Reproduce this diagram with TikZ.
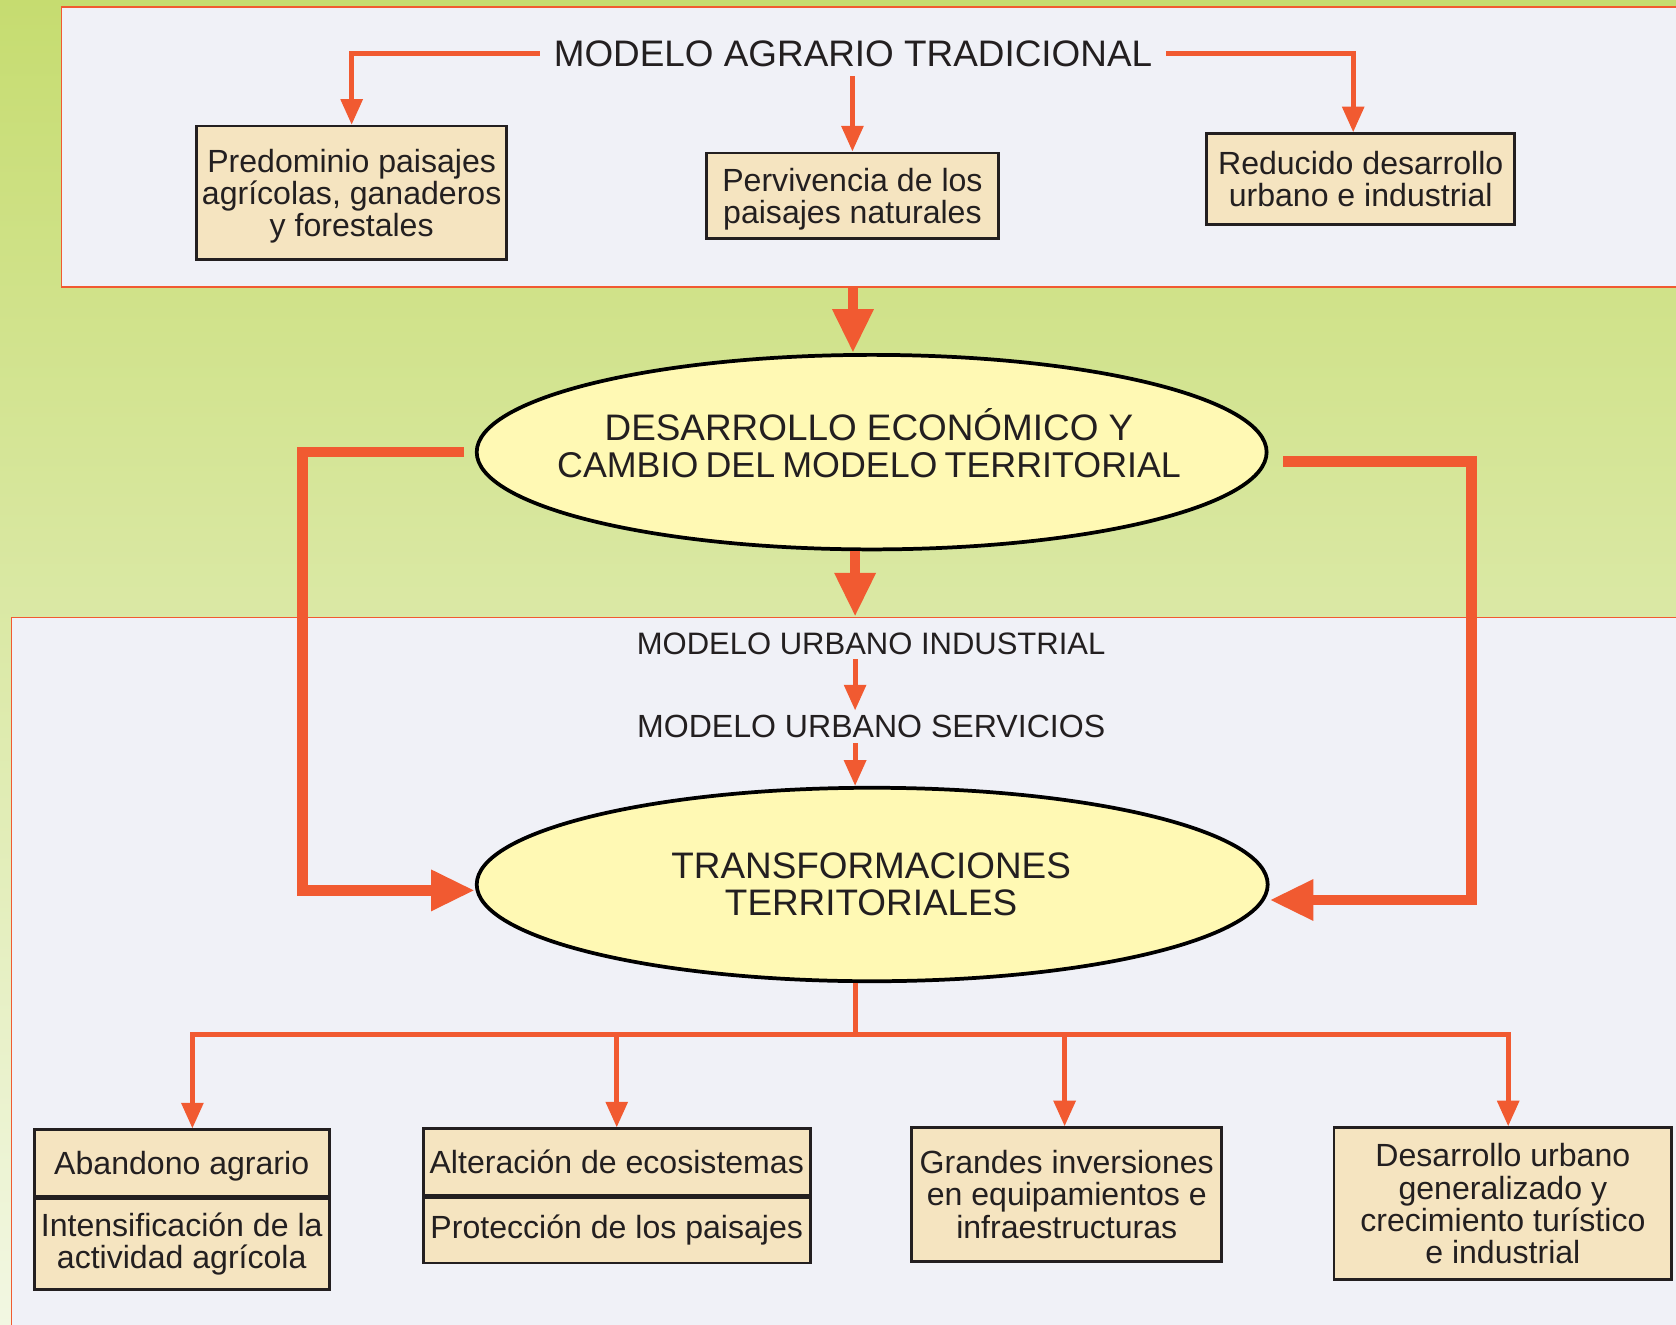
\documentclass[tikz,border=0pt]{standalone}
\usepackage{fontspec}
\setmainfont{Liberation Sans}
\usetikzlibrary{arrows.meta,shapes.geometric,calc}
\definecolor{orng}{HTML}{F15A31}
\definecolor{panelfill}{HTML}{F0F1F7}
\definecolor{boxfill}{HTML}{F5E4C0}
\definecolor{ellfill}{HTML}{FFF9B4}
\definecolor{txt}{HTML}{231F20}
\definecolor{greenA}{HTML}{C6DC70}
\definecolor{greenB}{HTML}{D8E6A0}
\definecolor{greenC}{HTML}{F2F7E2}
\begin{document}
\begin{tikzpicture}[x=1pt,y=-1pt,
  panel/.style={draw=orng,line width=1.3pt,fill=panelfill,inner sep=0pt},
  box/.style={draw=txt,line width=2.5pt,fill=boxfill,inner sep=2pt,align=center,font=\fontsize{30}{30}\selectfont,text=txt},
  ell/.style={ellipse,draw=black,line width=3.5pt,fill=ellfill,inner sep=0pt},
  bigtxt/.style={font=\fontsize{34.5}{35}\selectfont,text=txt,align=center,inner sep=0pt},
  midtxt/.style={font=\fontsize{29}{29}\selectfont,text=txt,inner sep=4.5pt},
  thinarr/.style={draw=orng,line width=4.5pt,-{Triangle[width=20pt,length=24pt]}},
  thickarr/.style={draw=orng,line width=10pt,-{Triangle[width=36pt,length=41pt]}},
  thinline/.style={draw=orng,line width=4.5pt},
]
\useasboundingbox (0,0) rectangle (1568,1239);
\clip (0,0) rectangle (1568,1239);
\shade[top color=greenA, middle color=greenB, bottom color=greenC] (0,0) rectangle (1568,1239);

% panels
\node[panel,anchor=north west,minimum width=1560pt,minimum height=262pt] (top) at (57,6) {};
\node[panel,anchor=north west,minimum width=1600pt,minimum height=700pt] (bot) at (10,577) {};

\coordinate (cx1) at (798,0);
\coordinate (cx2) at (800,0);

% top part
\node[bigtxt,inner xsep=13pt,inner ysep=9pt] (title) at (798,50) {MODELO AGRARIO TRADICIONAL};
\node[box,minimum width=290pt,minimum height=125pt,text depth=0pt] (p1) at (329,180.5) {Predominio paisajes\\agrícolas, ganaderos\\y forestales};
\node[box,minimum width=273pt,minimum height=80pt,text depth=0pt] (p2) at (797.5,183) {Pervivencia de los\\paisajes naturales};
\node[box,minimum width=288pt,minimum height=85pt] (p3) at (1273,167.5) {Reducido desarrollo\\urbano e industrial};

\draw[thinarr] (title.west) -| (p1.north);
\draw[thinarr] (title.south -| p2.north) -- (p2.north);
\draw[thinarr] (title.east) -| ($(p3.north)+(-7,0)$);

% ellipses
\node[ell,minimum width=739pt,minimum height=182pt] (e1) at (815.5,423) {};
\node[bigtxt] (e1t) at (813,414.5) {DESARROLLO ECONÓMICO Y\\{\fontsize{33.5}{35}\selectfont\spaceskip=0.2em\relax CAMBIO DEL MODELO TERRITORIAL}};
\node[ell,minimum width=740pt,minimum height=181pt] (e2) at (816,827.5) {};
\node[bigtxt] (e2t) at (815,827.5) {TRANSFORMACIONES\\TERRITORIALES};

\draw[thickarr] (top.south -| cx1) -- (e1.north -| cx1);
\draw[thickarr] (e1.south -| cx2) -- (bot.north -| cx2);

% middle labels
\node[midtxt] (m1) at (815,602) {MODELO URBANO INDUSTRIAL};
\node[midtxt,font=\fontsize{30}{30}\selectfont] (m2) at (815,680) {MODELO URBANO SERVICIOS};
\draw[thinarr] (m1.south -| cx2) -- (m2.north -| cx2);
\draw[thinarr] (m2.south -| cx2) -- (e2.north -| cx2);

% side connectors
\draw[thickarr] ($(e1.west)+(-10,0)$) -- ++(-151,0) |- ($(e2.west)+(0,5.5)$);
\draw[thickarr] ($(e1.east)+(14,9)$) -- ++(176,0) |- ($(e2.east)+(0,14.5)$);

% bottom boxes
\node[box,minimum width=276pt,minimum height=62pt,text depth=0pt] (b1a) at (170,1088) {Abandono agrario};
\node[box,minimum width=276pt,minimum height=85pt,anchor=north] (b1b) at (b1a.south) {Intensificación de la\\actividad agrícola};
\node[box,minimum width=362pt,minimum height=62pt] (b2a) at (577,1087) {Alteración de ecosistemas};
\node[box,minimum width=362pt,minimum height=61pt,anchor=north] (b2b) at (b2a.south) {Protección de los paisajes};
\node[box,minimum width=290pt,minimum height=125pt] (b3) at (998,1117.5) {Grandes inversiones\\en equipamientos e\\infraestructuras};
\node[box,minimum width=316pt,minimum height=142pt] (b4) at (1406,1126) {Desarrollo urbano\\generalizado y\\crecimiento turístico\\e industrial};

% tree
\draw[thinline] (e2.south -| cx2) -- ++(0,48) coordinate (hub);
\draw[thinarr] (hub) -| ($(b1a.north)+(10,0)$);
\draw[thinarr] (hub) -| ($(b4.north)+(5,0)$);
\draw[thinarr] (hub -| b2a.north) -- (b2a.north);
\draw[thinarr] ($(hub -| b3.north)+(-2,0)$) -- ($(b3.north)+(-2,0)$);
\end{tikzpicture}
\end{document}
